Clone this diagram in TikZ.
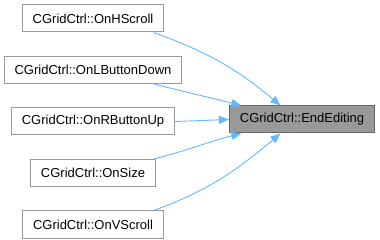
\documentclass[tikz,border=0pt]{standalone}
\usepackage{fontspec}
\setmainfont{Liberation Sans}
\usetikzlibrary{positioning,arrows.meta}

\definecolor{edgeblue}{HTML}{63B8FF}
\definecolor{boxline}{HTML}{999999}
\definecolor{boxdark}{HTML}{666666}

\tikzset{
	fn/.style={draw=boxline, line width=1pt, fill=white, minimum height=27pt,
		inner xsep=10.5pt, inner ysep=0pt, font=\fontsize{13}{15}\selectfont},
	fnhere/.style={fn, draw=boxdark, fill=boxline},
	call/.style={draw=edgeblue, line width=0.9pt,
		-{Triangle[length=10pt, width=8pt, fill=edgeblue]}},
}

\begin{document}
\begin{tikzpicture}[x=1pt, y=1pt, node distance=23.5pt]
	\useasboundingbox (0,0) rectangle (380,-240);

	% callers
	\node[fn] (hscroll) at (93,-18.5) {CGridCtrl::OnHScroll};
	\node[fn, below=of hscroll] (lbdown) {CGridCtrl::OnLButtonDown};
	\node[fn, below=of lbdown] (rbup) {CGridCtrl::OnRButtonUp};
	\node[fn, below=of rbup] (onsize) {CGridCtrl::OnSize};
	\node[fn, below=of onsize] (vscroll) {CGridCtrl::OnVScroll};

	% callee
	\node[fnhere] (endedit) at (302,-119.5) {CGridCtrl::EndEditing};

	\draw[call] (hscroll.347) to[out=-20, in=140] (endedit.147);
	\draw[call] (lbdown.347) to[out=-14, in=166] (endedit.167);
	\draw[call] (rbup.east) -- (endedit.west);
	\draw[call] (onsize.13) to[out=14, in=-166] (endedit.193);
	\draw[call] (vscroll.13) to[out=20, in=-140] (endedit.213);
\end{tikzpicture}
\end{document}
